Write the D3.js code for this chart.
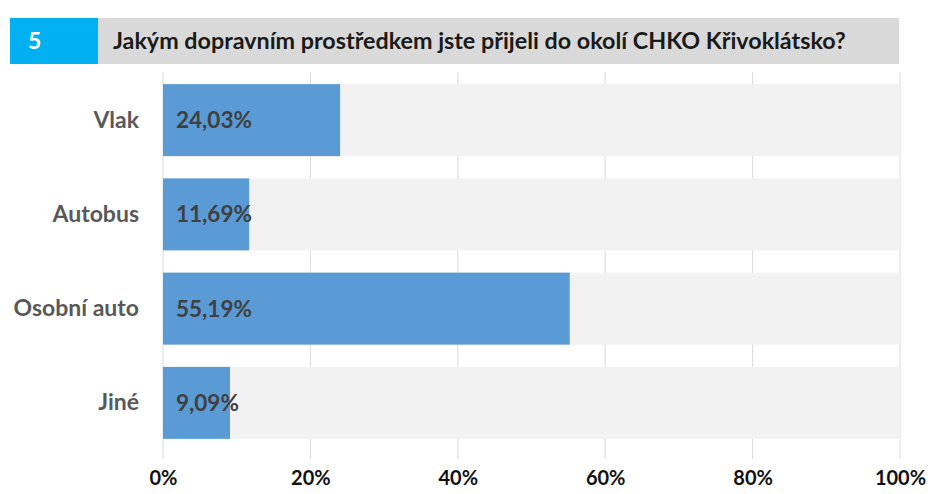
<!DOCTYPE html>
<html>
<head>
<meta charset="utf-8">
<script src="https://cdn.jsdelivr.net/npm/d3@7"></script>
<style>
  body { margin: 0; background: #fff; }
  svg { display: block; font-family: Lato, "Open Sans", sans-serif; }
</style>
</head>
<body>
<svg id="chart" width="928" height="494"></svg>
<script>
// data
var questionNo = "5";
var title = "Jakým dopravním prostředkem jste přijeli do okolí CHKO Křivoklátsko?";
var categories = ["Vlak", "Autobus", "Osobní auto", "Jiné"];
var values = [24.03, 11.69, 55.19, 9.09];
var ticks = [0, 20, 40, 60, 80, 100];

var svg = d3.select("#chart");

var x = d3.scaleLinear().domain([0, 100]).range([163, 900]);
var y = d3.scaleBand().domain(categories).range([73, 450])
    .paddingInner(0.236).paddingOuter(0.118);

// header
svg.append("rect").attr("x", 10).attr("y", 18).attr("width", 88).attr("height", 46)
    .attr("fill", "#00b0f0");
svg.append("rect").attr("x", 98).attr("y", 18).attr("width", 801).attr("height", 46)
    .attr("fill", "#d9d9d9");
svg.append("text").attr("x", 28).attr("y", 41).attr("dy", "0.35em")
    .attr("fill", "#fff").attr("font-weight", "bold").attr("font-size", 23)
    .text(questionNo);
svg.append("text").attr("x", 113).attr("y", 41).attr("dy", "0.35em")
    .attr("fill", "#1a1a1a").attr("font-weight", "bold").attr("font-size", 23.3)
    .text(title);

// gridlines
svg.append("g").selectAll("line").data(ticks).join("line")
    .attr("x1", function(d) { return x(d); })
    .attr("x2", function(d) { return x(d); })
    .attr("y1", 72).attr("y2", 459)
    .attr("stroke", "#d9d9d9").attr("stroke-width", 1);

// background bars
svg.append("g").selectAll("rect").data(categories).join("rect")
    .attr("x", x(0)).attr("y", function(d) { return y(d); })
    .attr("width", x(100) - x(0)).attr("height", y.bandwidth())
    .attr("fill", "#f2f2f2");

// value bars
svg.append("g").selectAll("rect").data(values).join("rect")
    .attr("x", x(0)).attr("y", function(d, i) { return y(categories[i]); })
    .attr("width", function(d) { return x(d) - x(0); }).attr("height", y.bandwidth())
    .attr("fill", "#5b9bd5");

// value labels
svg.append("g").selectAll("text").data(values).join("text")
    .attr("x", x(0) + 13)
    .attr("y", function(d, i) { return y(categories[i]) + y.bandwidth() / 2; })
    .attr("dy", "0.35em")
    .attr("fill", "#404040").attr("font-weight", "bold").attr("font-size", 22.5)
    .text(function(d) { return d.toFixed(2).replace(".", ",") + "%"; });

// category axis
var yAxis = svg.append("g").attr("transform", "translate(163,0)")
    .call(d3.axisLeft(y).tickSize(0).tickPadding(24));
yAxis.select(".domain").remove();
yAxis.selectAll("text").attr("fill", "#595959").attr("font-weight", "bold")
    .attr("font-size", 23).attr("font-family", "Lato, sans-serif");

// value axis
var xAxis = svg.append("g").attr("transform", "translate(0,463)")
    .call(d3.axisBottom(x).tickValues(ticks).tickSize(0).tickPadding(8)
        .tickFormat(function(d) { return d + "%"; }));
xAxis.select(".domain").remove();
xAxis.selectAll("text").attr("fill", "#111").attr("font-weight", "bold")
    .attr("font-size", 20).attr("font-family", "Lato, sans-serif");
</script>
</body>
</html>
